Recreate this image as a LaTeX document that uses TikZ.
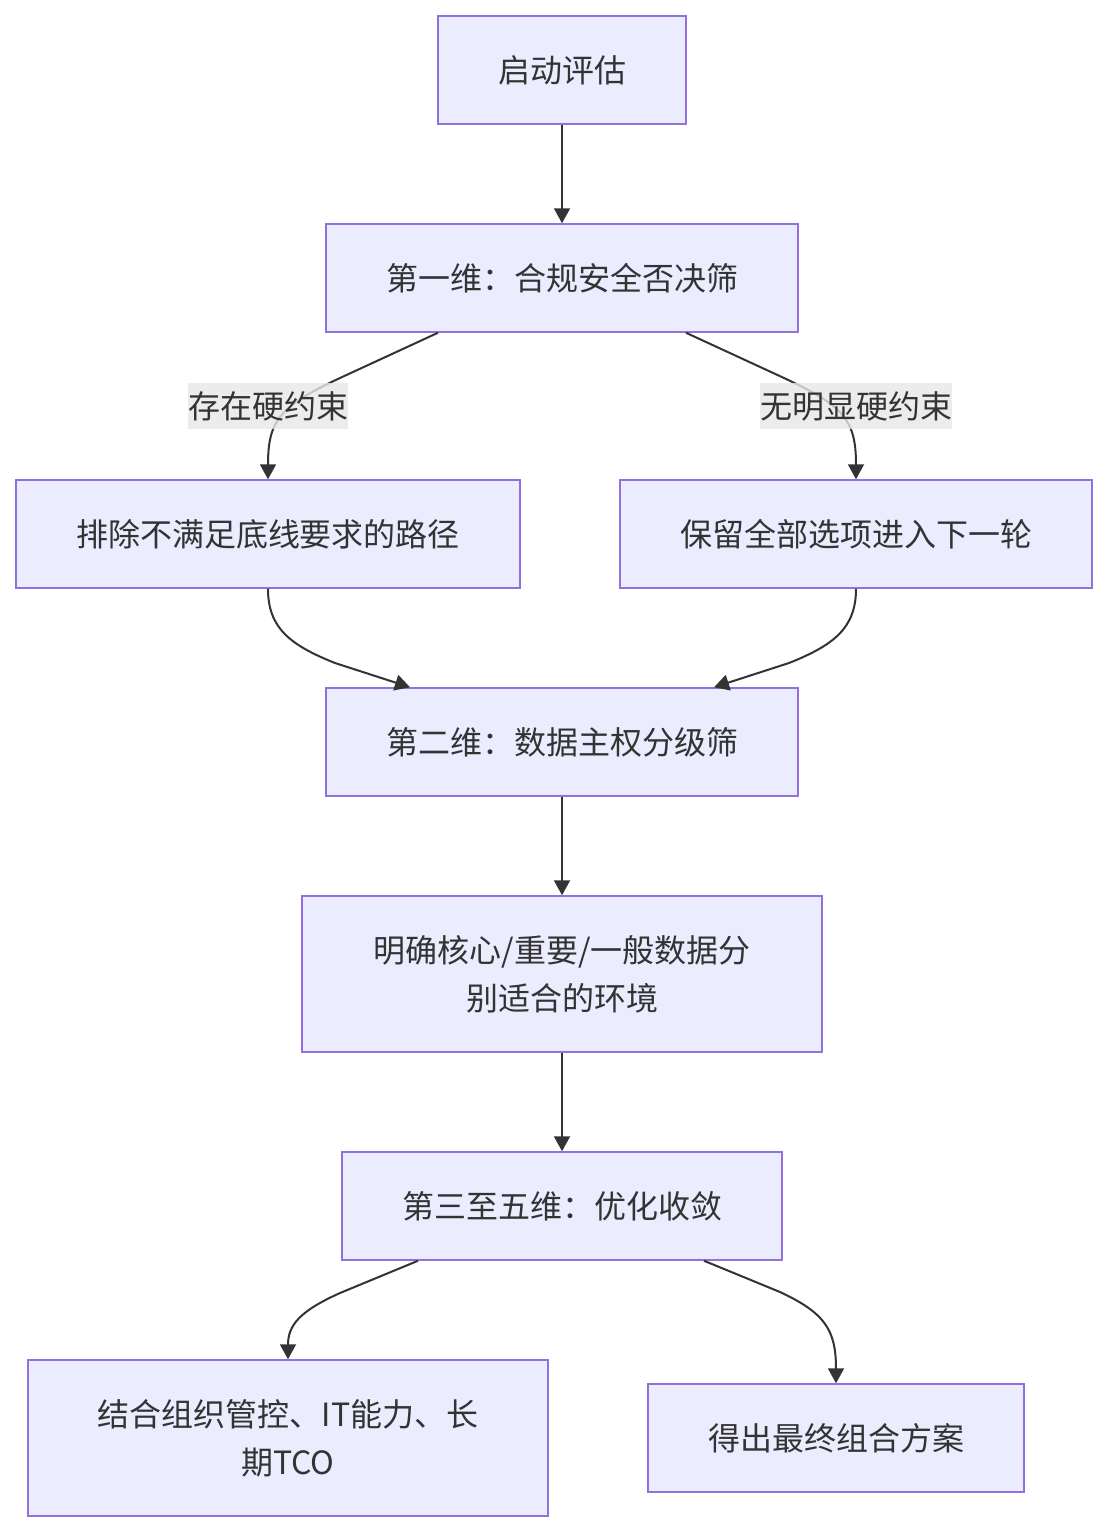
\documentclass[tikz,border=0pt]{standalone}
\usepackage{fontspec}
\setmainfont{Noto Sans CJK SC}
\usetikzlibrary{arrows.meta,calc}
\definecolor{nodefill}{HTML}{ECECFF}
\definecolor{nodeline}{HTML}{9370DB}
\definecolor{ink}{HTML}{333333}
\definecolor{lblbg}{HTML}{E8E8E8}
\tikzset{
  box/.style={draw=nodeline, fill=nodefill, line width=1.5pt, text=ink, align=center,
    font=\fontsize{32pt}{48pt}\selectfont, inner sep=0pt},
  edge/.style={draw=ink, line width=2pt, -{Triangle[length=15pt,width=16pt]}},
  lbl/.style={fill=lblbg, fill opacity=0.8, text opacity=1, text=ink, inner xsep=0pt, inner ysep=0pt,
    minimum height=46pt, font=\fontsize{32pt}{48pt}\selectfont},
}
\begin{document}
\begin{tikzpicture}[x=1pt,y=-1pt]
\useasboundingbox[fill=white] (0,0) rectangle (1108,1532);
\node[box, minimum width=248pt, minimum height=108pt] (n1) at (562,70) {启动评估};
\node[box, minimum width=472pt, minimum height=108pt] (n2) at (562,278) {第一维：合规安全否决筛};
\node[box, minimum width=504pt, minimum height=108pt] (n3) at (268,534) {排除不满足底线要求的路径};
\node[box, minimum width=472pt, minimum height=108pt] (n4) at (856,534) {保留全部选项进入下一轮};
\node[box, minimum width=472pt, minimum height=108pt] (n5) at (562,742) {第二维：数据主权分级筛};
\node[box, minimum width=520pt, minimum height=156pt] (n6) at (562,974) {明确核心/重要/一般数据分\\别适合的环境};
\node[box, minimum width=440pt, minimum height=108pt] (n7) at (562,1206) {第三至五维：优化收敛};
\node[box, minimum width=520pt, minimum height=156pt] (n8) at (288,1438) {结合组织管控、IT能力、长\\期TCO};
\node[box, minimum width=376pt, minimum height=108pt] (n9) at (836,1438) {得出最终组合方案};

\draw[edge] (n1.south) -- (n2.north);
\draw[edge] ([xshift=-124pt]n2.south) -- (340,378) .. controls (280,406) and (268,420) .. (n3.north);
\draw[edge] ([xshift=124pt]n2.south) -- (784,378) .. controls (844,406) and (856,420) .. (n4.north);
\node[lbl] (l1) at (268,406) {存在硬约束};
\node[lbl] (l2) at (856,406) {无明显硬约束};
\draw[edge] (n3.south) .. controls (268,628) and (290,645) .. (335,663) -- ([xshift=-152pt]n5.north);
\draw[edge] (n4.south) .. controls (856,628) and (834,645) .. (789,663) -- ([xshift=152pt]n5.north);
\draw[edge] (n5.south) -- (n6.north);
\draw[edge] (n6.south) -- (n7.north);
\draw[edge] ([xshift=-144pt]n7.south) -- (340,1293) .. controls (300,1311) and (288,1325) .. (n8.north);
\draw[edge] ([xshift=142pt]n7.south) -- (780,1292) .. controls (825,1313) and (836,1330) .. (n9.north);
\end{tikzpicture}
\end{document}
